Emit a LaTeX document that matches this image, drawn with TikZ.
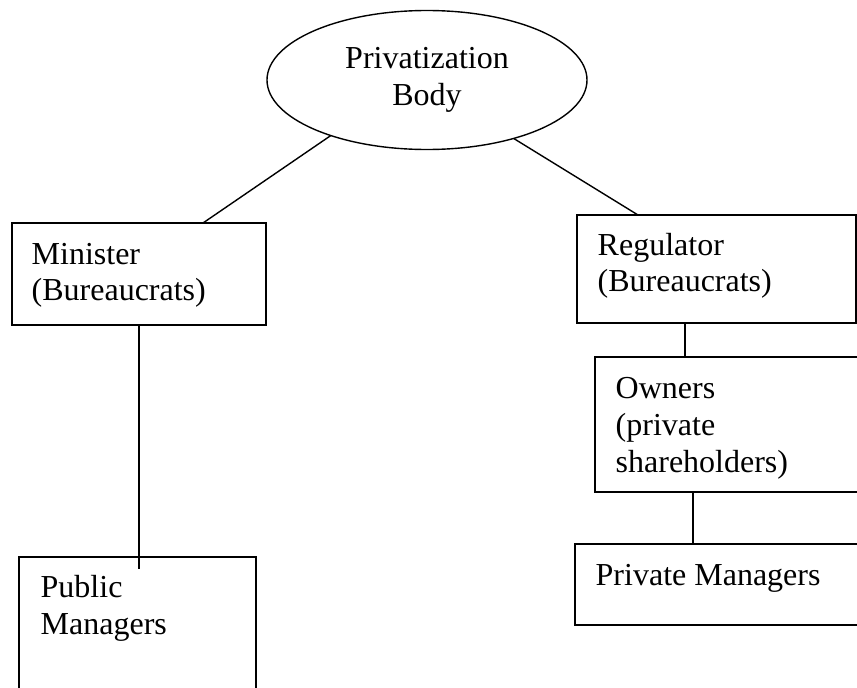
\documentclass[tikz,border=0pt]{standalone}
\usepackage{fontspec}
\setmainfont{Liberation Serif}
\usetikzlibrary{shapes.geometric,calc}
\begin{document}
\begin{tikzpicture}[x=1pt,y=-1pt,
  line width=1.4pt,
  boxnode/.style={draw,rectangle,inner sep=0pt,outer sep=0pt},
  ovalnode/.style={draw,ellipse,inner sep=0pt,outer sep=0pt,minimum width=320pt,minimum height=139pt},
  lbl/.style={anchor=base west,inner sep=0pt,font=\fontsize{32}{37}\selectfont},
  clbl/.style={anchor=base,inner sep=0pt,font=\fontsize{32}{37}\selectfont},
  link/.style={draw,line width=1.4pt}]
\useasboundingbox (0,0) rectangle (857,688);
\clip (0,0) rectangle (857,688);
\fill[white] (0,0) rectangle (857,688);
% shapes
\node[ovalnode] (pb) at (427,80) {};
\node[boxnode,minimum width=254pt,minimum height=102pt] (min) at (139,274) {};
\node[boxnode,minimum width=237pt,minimum height=143pt] (pub) at (137.5,628.5) {};
\node[boxnode,minimum width=279pt,minimum height=108pt] (reg) at (716.5,269) {};
\node[boxnode,minimum width=275pt,minimum height=135pt] (own) at (732.5,424.5) {};
\node[boxnode,minimum width=295pt,minimum height=81pt] (pm) at (722.5,584.5) {};
% texts
\node[clbl] (t1) at (427,68) {Privatization};
\node[clbl] (t2) at (427,105) {Body};
\node[lbl] (t3) at (31,264) {Minister};
\node[lbl] (t4) at (31,300) {(Bureaucrats)};
\node[lbl] (t5) at (597,255) {Regulator};
\node[lbl] (t6) at (597,291) {(Bureaucrats)};
\node[lbl] (t7) at (615,398) {Owners};
\node[lbl] (t8) at (615,435) {(private};
\node[lbl] (t9) at (615,472) {shareholders)};
\node[lbl] (t10) at (595,585) {Private Managers};
\node[lbl] (t11) at (40,597) {Public};
\node[lbl] (t12) at (40,634) {Managers};
% connectors
\coordinate (pubend) at (139,569);
\draw[link] (pb.210) -- ($(min.north west)+(191,0)$);
\draw[link] (pb.326) -- ($(reg.north west)+(61,0)$);
\draw[link] (min.south) -- (pubend);
\draw[link] ($(reg.south west)+(108,0)$) -- ($(own.north west)+(90,0)$);
\draw[link] ($(own.south west)+(98,0)$) -- ($(pm.north west)+(118,0)$);
\end{tikzpicture}
\end{document}
